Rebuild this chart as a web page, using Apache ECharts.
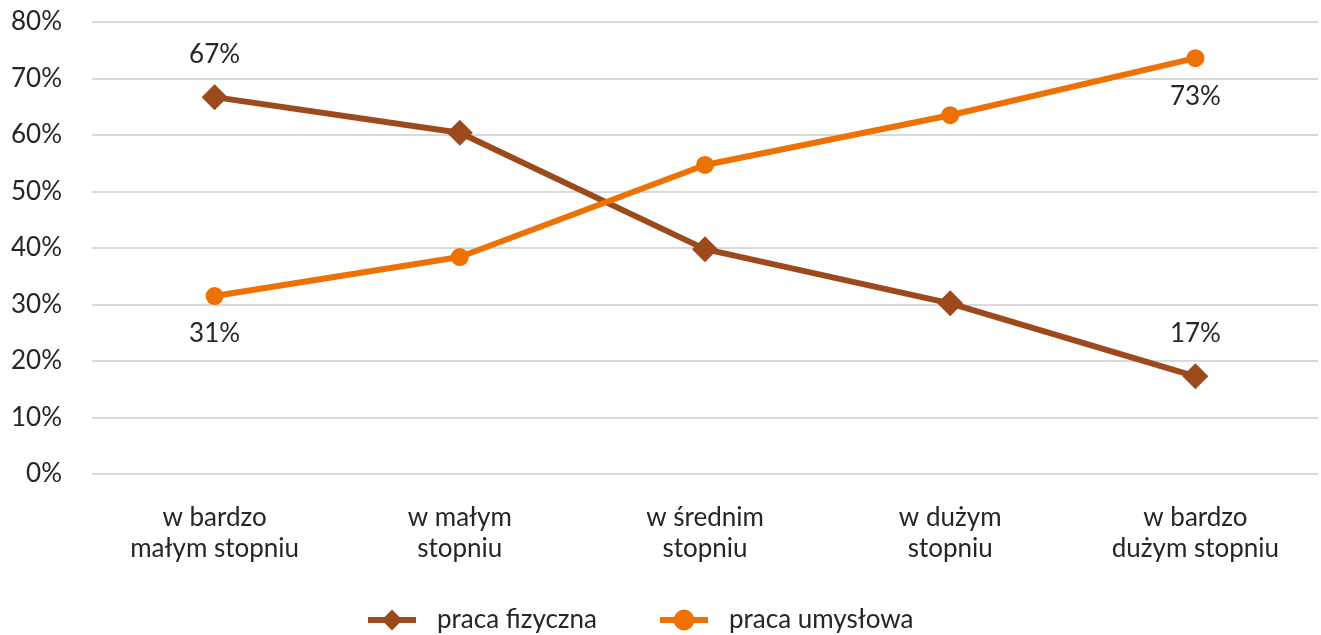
<!DOCTYPE html>
<html>
<head>
<meta charset="utf-8">
<script src="https://cdn.jsdelivr.net/npm/echarts@6/dist/echarts.min.js"></script>
<style>
    html, body { margin: 0; padding: 0; background: #fff; }
    #chart { width: 1321px; height: 635px; }
</style>
</head>
<body>
<div id="chart"></div>
<script>
    // dane
    var categories = ['w bardzo\nmałym stopniu', 'w małym\nstopniu', 'w średnim\nstopniu', 'w dużym\nstopniu', 'w bardzo\ndużym stopniu'];
    var fizyczna = [66.7, 60.4, 39.8, 30.2, 17.3];
    var umyslowa = [31.5, 38.4, 54.7, 63.5, 73.6];
    var fizycznaLabels = ['67%', '', '', '', '17%'];
    var umyslowaLabels = ['31%', '', '', '', '73%'];

    var font = 'Lato';
    var textColor = '#262626';
    var fontSize = 26;

    function labelFn(list) {
        return function (p) { return list[p.dataIndex]; };
    }

    var chart = echarts.init(document.getElementById('chart'));
    var option = {
        animation: false,
        textStyle: { fontFamily: font },
        grid: {
            left: 92,
            right: 3,
            top: 22,
            bottom: 161
        },
        legend: {
            bottom: -3,
            left: 360,
            itemWidth: 48,
            itemHeight: 26,
            itemGap: 60,
            lineStyle: { width: 6 },
            textStyle: { fontFamily: font, fontSize: fontSize, color: textColor, padding: [0, 0, 0, 16] },
            data: ['praca fizyczna', 'praca umysłowa']
        },
        xAxis: {
            type: 'category',
            data: categories,
            axisLine: { show: false },
            axisTick: { show: false },
            axisLabel: {
                fontFamily: font,
                fontSize: fontSize,
                color: textColor,
                lineHeight: 31,
                margin: 28,
                interval: 0
            }
        },
        yAxis: {
            type: 'value',
            min: 0,
            max: 80,
            interval: 10,
            axisLine: { show: false },
            axisTick: { show: false },
            axisLabel: {
                fontFamily: font,
                fontSize: fontSize,
                color: textColor,
                margin: 30,
                formatter: '{value}%'
            },
            splitLine: { lineStyle: { color: '#d9d9d9', width: 2 } }
        },
        series: [{
            name: 'praca fizyczna',
            type: 'line',
            data: fizyczna,
            symbol: 'diamond',
            symbolSize: 26,
            itemStyle: { color: '#9c4a1c' },
            lineStyle: { width: 6, color: '#9c4a1c' },
            label: {
                show: true,
                position: 'top',
                distance: 17,
                fontFamily: font,
                fontSize: fontSize,
                color: textColor,
                formatter: labelFn(fizycznaLabels)
            }
        }, {
            name: 'praca umysłowa',
            type: 'line',
            data: umyslowa,
            symbol: 'circle',
            symbolSize: 18,
            itemStyle: { color: '#ee7203' },
            lineStyle: { width: 6, color: '#ee7203' },
            label: {
                show: true,
                position: 'bottom',
                distance: 16,
                fontFamily: font,
                fontSize: fontSize,
                color: textColor,
                formatter: labelFn(umyslowaLabels)
            }
        }]
    };
    chart.setOption(option);
</script>
</body>
</html>
